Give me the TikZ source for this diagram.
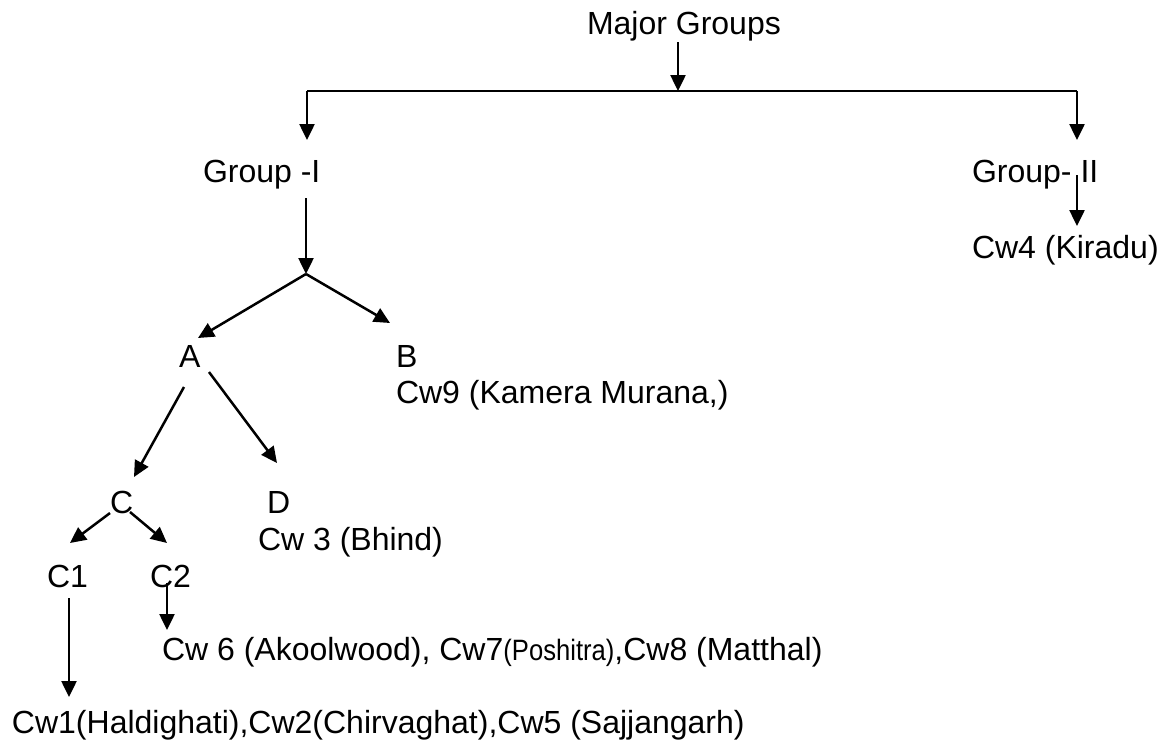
\documentclass[tikz,border=0pt]{standalone}
\usepackage{fontspec}
\setmainfont{Liberation Sans}
\usetikzlibrary{arrows.meta}
\begin{document}
\begin{tikzpicture}[x=1pt,y=-1pt,
  lbl/.style={anchor=base west,inner sep=0pt,outer sep=0pt,font=\fontsize{32}{38}\selectfont},
  conn/.style={line width=2.5pt},
  arr/.style={line width=2.5pt,-{Triangle[length=16pt,width=15pt]}}]
\fill[white] (0,0) rectangle (1160,740);
\useasboundingbox (0,0) rectangle (1160,740);
% text nodes
\node[lbl] (MG) at (587,34) {Major Groups};
\node[lbl] (G1) at (203,182) {Group -I};
\node[lbl] (G2) at (972,182) {Group-\hspace{0.28em}II};
\node[lbl] (CW4) at (972,258) {Cw4 (Kiradu)};
\node[lbl] (A) at (179,367) {A};
\node[lbl] (B) at (396,367) {B};
\node[lbl] (CW9) at (396,403) {Cw9 (Kamera Murana,)};
\node[lbl] (C) at (110,513) {C};
\node[lbl] (D) at (267,513) {D};
\node[lbl] (CW3) at (258,550) {Cw 3 (Bhind)};
\node[lbl] (C1) at (47,587) {C1};
\node[lbl] (C2) at (150,587) {C2};
\node[lbl] (CW6) at (162,660) {Cw 6 (Akoolwood), Cw7\scalebox{0.8}[0.92]{(Poshitra)},Cw8 (Matthal)};
\node[lbl] (CW1) at (12,733) {Cw1(Haldighati),Cw2(Chirvaghat),Cw5 (Sajjangarh)};
% connector points
\coordinate (mgS) at (678,42);
\coordinate (mgJ) at (678,91);
\coordinate (bL) at (307,91);
\coordinate (bR) at (1077,91);
\coordinate (g1T) at (307,140);
\coordinate (g2T) at (1077,140);
\coordinate (g1S) at (306,198);
\coordinate (jI) at (306,274);
\coordinate (aT) at (198,338);
\coordinate (bT) at (390,323);
\coordinate (aS1) at (184,387);
\coordinate (cT) at (134,477);
\coordinate (aS2) at (209,372);
\coordinate (dT) at (277,463);
\coordinate (cS1) at (110,513);
\coordinate (c1T) at (70,543);
\coordinate (cS2) at (130,512);
\coordinate (c2T) at (167,543);
\coordinate (c1S) at (69,598);
\coordinate (cw1T) at (69,697);
\coordinate (c2S) at (167,583);
\coordinate (cw6T) at (167,630);
\coordinate (g2S) at (1077,175);
\coordinate (cw4T) at (1077,226);
% connectors
\draw[arr] (mgS) -- (mgJ);
\draw[conn] (bL) -- (bR);
\draw[arr] (bL) -- (g1T);
\draw[arr] (bR) -- (g2T);
\draw[arr] (g1S) -- (jI);
\draw[arr] (jI) -- (aT);
\draw[arr] (jI) -- (bT);
\draw[arr] (aS1) -- (cT);
\draw[arr] (aS2) -- (dT);
\draw[arr] (cS1) -- (c1T);
\draw[arr] (cS2) -- (c2T);
\draw[arr] (c1S) -- (cw1T);
\draw[arr] (c2S) -- (cw6T);
\draw[arr] (g2S) -- (cw4T);
\end{tikzpicture}
\end{document}
